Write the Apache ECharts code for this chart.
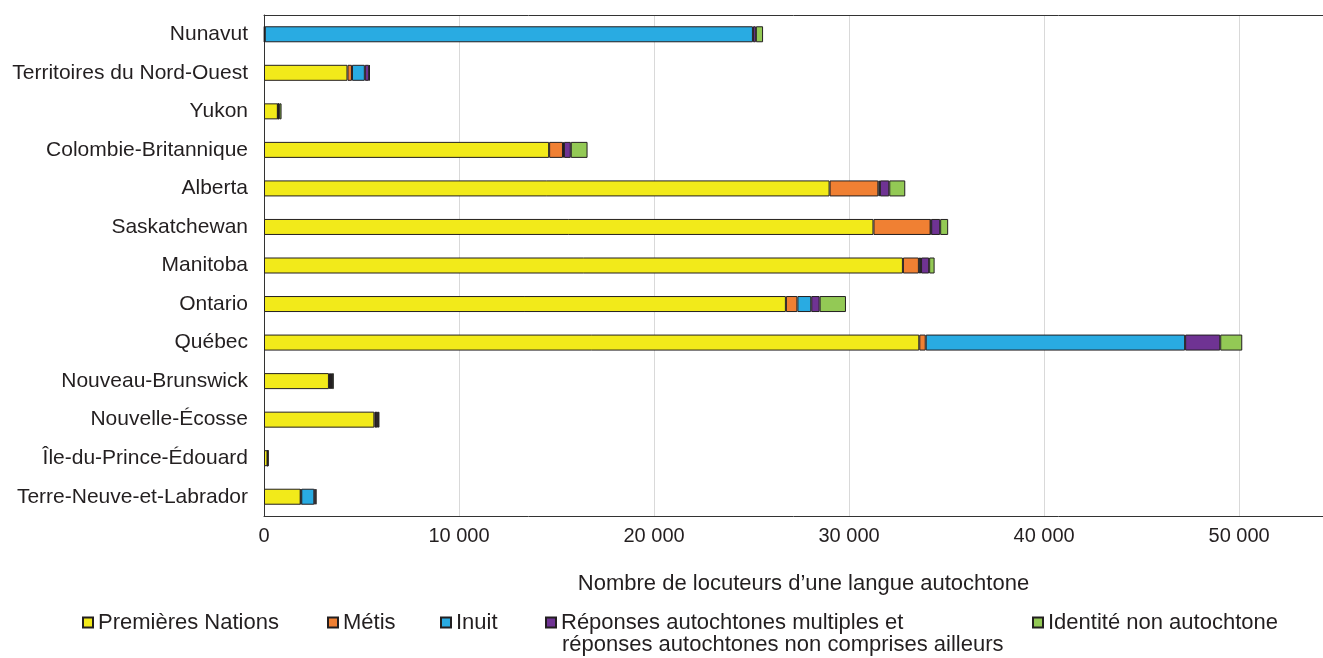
<!DOCTYPE html>
<html>
<head>
<meta charset="utf-8">
<script src="https://cdn.jsdelivr.net/npm/echarts@6/dist/echarts.min.js"></script>
<style>
  html, body { margin: 0; padding: 0; background: #fff; }
  #chart-container { width: 1323px; height: 658px; }
</style>
</head>
<body>
<div id="chart-container"></div>
<script>
// provinces / territories, top to bottom
const provinces = [
    'Nunavut', 'Territoires du Nord-Ouest', 'Yukon', 'Colombie-Britannique', 'Alberta',
    'Saskatchewan', 'Manitoba', 'Ontario', 'Québec', 'Nouveau-Brunswick',
    'Nouvelle-Écosse', 'Île-du-Prince-Édouard', 'Terre-Neuve-et-Labrador'
];
const premieresNations = [30, 4280, 710, 14620, 29000, 31250, 32760, 26760, 33600, 3330, 5660, 180, 1880];
const metis = [10, 230, 20, 710, 2500, 2930, 820, 590, 330, 50, 80, 5, 30];
const inuit = [25030, 660, 10, 50, 80, 30, 110, 710, 13300, 60, 20, 5, 670];
const reponsesMultiples = [150, 220, 40, 350, 480, 460, 415, 430, 1800, 50, 80, 5, 60];
const nonAutochtone = [370, 40, 120, 860, 820, 410, 280, 1350, 1130, 90, 80, 20, 50];
const xTicks = [0, 10000, 20000, 30000, 40000, 50000];

const FONT = '"Liberation Sans", Arial, sans-serif';
const TXT = '#231f20';

const seriesDefs = [
    { name: 'Premières Nations', data: premieresNations, color: '#f2ea1a' },
    { name: 'Métis', data: metis, color: '#f08033' },
    { name: 'Inuit', data: inuit, color: '#29abe2' },
    { name: 'Réponses autochtones multiples et réponses autochtones non comprises ailleurs', data: reponsesMultiples, color: '#6f3393' },
    { name: 'Identité non autochtone', data: nonAutochtone, color: '#93c955' }
];

const series = seriesDefs.map(function (s) {
    return {
        name: s.name,
        type: 'bar',
        stack: 'total',
        barWidth: 16,
        data: s.data,
        itemStyle: { color: s.color, borderColor: TXT, borderWidth: 1 },
        emphasis: { disabled: true }
    };
});

// one legend per item so each sits where the reference puts it
const legendLefts = [82, 327, 440, 545, 1032];
const legends = seriesDefs.map(function (s, i) {
    return {
        data: [s.name],
        left: legendLefts[i],
        top: 611,
        padding: 0,
        itemWidth: 10,
        itemHeight: 10,
        icon: 'rect',
        selectedMode: false,
        // the long name wraps: first line here, second line as a graphic text below
        formatter: i === 3 ? 'Réponses autochtones multiples et' : '{name}',
        textStyle: { fontFamily: FONT, fontSize: 22, color: TXT, lineHeight: 23 }
    };
});

const axisLineStyle = { color: '#333', width: 1 };

const chart = echarts.init(document.getElementById('chart-container'));
chart.setOption({
    animation: false,
    grid: { left: 264, right: 0, top: 15, height: 501, containLabel: false },
    legend: legends,
    graphic: [{
        type: 'text',
        left: 562,
        top: 634,
        style: {
            text: 'réponses autochtones non comprises ailleurs',
            font: '22px ' + FONT,
            fill: TXT
        }
    }],
    xAxis: [{
        type: 'value',
        min: 0,
        max: 54300,
        interval: 10000,
        name: 'Nombre de locuteurs d’une langue autochtone',
        nameLocation: 'middle',
        nameGap: 57,
        nameTextStyle: { fontFamily: FONT, fontSize: 22, color: TXT, padding: [0, 0, 0, 20] },
        axisLine: { show: true, lineStyle: axisLineStyle },
        axisTick: { show: false },
        splitLine: { show: true, lineStyle: { color: '#d9d9d9', width: 1 } },
        axisLabel: {
            fontFamily: FONT,
            fontSize: 20,
            color: TXT,
            margin: 10,
            showMaxLabel: false,
            formatter: function (v) {
                return xTicks.indexOf(v) >= 0 ? String(v).replace(/\B(?=(\d{3})+(?!\d))/g, ' ') : '';
            }
        }
    }, {
        // top frame line only
        type: 'value',
        position: 'top',
        min: 0,
        max: 54300,
        interval: 10000,
        axisLine: { show: true, lineStyle: axisLineStyle },
        axisTick: { show: false },
        axisLabel: { show: false },
        splitLine: { show: false }
    }],
    yAxis: {
        type: 'category',
        inverse: true,
        data: provinces,
        axisLine: { show: true, lineStyle: axisLineStyle },
        axisTick: { show: false },
        axisLabel: { fontFamily: FONT, fontSize: 21, color: TXT, margin: 16 }
    },
    series: series
});
</script>
</body>
</html>
